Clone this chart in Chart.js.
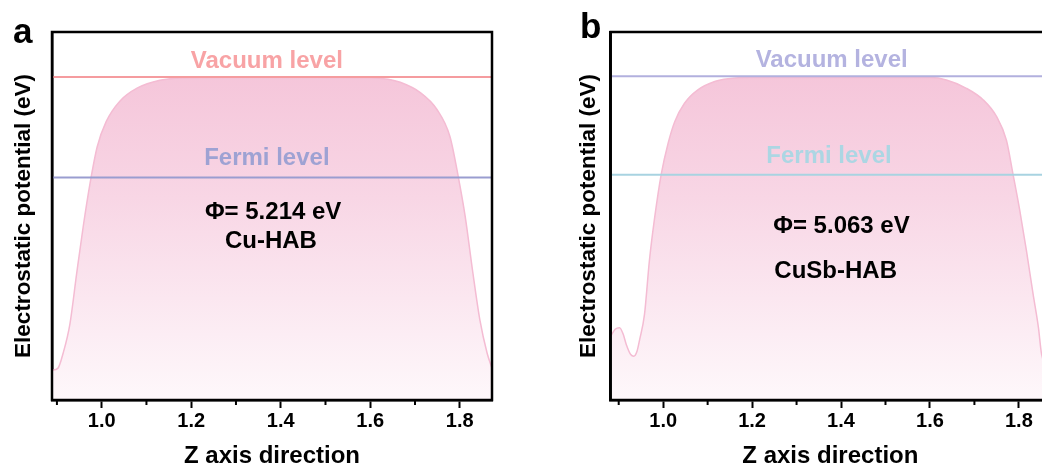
<!DOCTYPE html>
<html>
<head>
<meta charset="utf-8">
<script src="https://cdn.jsdelivr.net/npm/chart.js@4.4.1/dist/chart.umd.min.js"></script>
<style>
  html, body { margin: 0; padding: 0; background: #fff; overflow: hidden; }
  body { width: 1042px; height: 468px; position: relative; }
  canvas { position: absolute; top: 0; }
  #panelA { left: 0; width: 520px; height: 468px; }
  #panelB { left: 520px; width: 560px; height: 468px; }
</style>
</head>
<body>
<canvas id="panelA" width="520" height="468"></canvas>
<canvas id="panelB" width="560" height="468"></canvas>
<script>
// Planar-averaged electrostatic potential along z, relative to the Fermi level (eV)
const zCu = [0.889, 0.902, 0.914, 0.929, 0.944, 0.959, 0.974, 0.990, 1.010, 1.040, 1.080, 1.130, 1.180, 1.300, 1.450, 1.600,
             1.640, 1.667, 1.711, 1.749, 1.778, 1.797, 1.812, 1.829, 1.845, 1.861, 1.872];
const potCu = [-10.0, -9.9, -9.1, -7.6, -5.0, -2.5, -0.3, 1.6, 2.9, 3.95, 4.65, 5.05, 5.17, 5.19, 5.19, 5.18,
               5.10, 4.94, 4.42, 3.53, 2.13, 0.0, -2.0, -4.9, -7.4, -9.1, -9.9];

const zCuSb = [0.882, 0.892, 0.902, 0.910, 0.917, 0.927, 0.934, 0.941, 0.947, 0.958, 0.969, 0.981, 0.9955, 1.011, 1.026, 1.048,
               1.078, 1.116, 1.146, 1.200, 1.400, 1.600, 1.637, 1.682, 1.720, 1.750, 1.772, 1.787, 1.802, 1.817, 1.832,
               1.844, 1.851, 1.862, 1.870];
const potCuSb = [-8.3, -7.95, -7.87, -8.2, -8.73, -9.25, -9.34, -9.1, -8.5, -7.19, -4.43, -2.19, 0.0, 1.60, 2.72, 3.67,
                 4.36, 4.79, 4.93, 4.99, 5.00, 4.99, 4.87, 4.44, 3.84, 2.98, 1.77, 0.0, -1.84, -3.91, -6.15,
                 -7.87, -9.23, -9.9, -10.2];

// work functions (vacuum level minus Fermi level)
const workCu = 5.214;
const workCuSb = 5.063;
const fermi = 0;

const majorTicks = [1.0, 1.2, 1.4, 1.6, 1.8];
const minorTicks = [0.9, 1.1, 1.3, 1.5, 1.7];

const FONT = "'Liberation Sans', Arial, sans-serif";

// closed black frame + short minor ticks + text labels
const panelText = {
    id: 'panelText',
    afterDraw(chart, args, opts) {
        const ctx = chart.ctx;
        const area = chart.chartArea;
        const xs = chart.scales.x, ys = chart.scales.y;
        ctx.save();
        ctx.strokeStyle = '#000';
        ctx.lineWidth = 2.5;
        ctx.strokeRect(area.left, area.top, area.right - area.left, area.bottom - area.top);

        ctx.lineWidth = 2;
        minorTicks.forEach(v => {
            const px = xs.getPixelForValue(v);
            ctx.beginPath();
            ctx.moveTo(px, area.bottom);
            ctx.lineTo(px, area.bottom + 5);
            ctx.stroke();
        });

        ctx.textAlign = 'center';
        ctx.textBaseline = 'middle';
        (opts.notes || []).forEach(n => {
            ctx.fillStyle = n.color;
            ctx.font = `bold ${n.size}px ${FONT}`;
            ctx.fillText(n.text, xs.getPixelForValue(n.x), ys.getPixelForValue(n.y));
        });

        if (opts.letter) {
            ctx.textAlign = 'left';
            ctx.textBaseline = 'alphabetic';
            ctx.fillStyle = '#000';
            ctx.font = `bold 35px ${FONT}`;
            ctx.fillText(opts.letter.text, opts.letter.left, opts.letter.base);
        }
        ctx.restore();
    }
};

function pinkFill(context) {
    const area = context.chart.chartArea;
    if (!area) return 'rgba(244,194,216,0.8)';
    const g = context.chart.ctx.createLinearGradient(0, area.top, 0, area.bottom);
    g.addColorStop(0, 'rgb(244,192,214)');
    g.addColorStop(0.45, 'rgb(248,214,229)');
    g.addColorStop(1, 'rgb(254,248,251)');
    return g;
}

function levelLine(y, xMin, xMax, color) {
    return {
        data: [{ x: xMin, y: y }, { x: xMax, y: y }],
        borderColor: color,
        borderWidth: 2,
        pointRadius: 0,
        fill: false
    };
}

function makePanel(id, cfg) {
    const curve = cfg.z.map((z, i) => ({ x: z, y: cfg.pot[i] }));
    return new Chart(document.getElementById(id), {
        type: 'line',
        data: {
            datasets: [
                levelLine(cfg.work, cfg.xMin, cfg.xMax, cfg.vacColor),
                levelLine(fermi, cfg.xMin, cfg.xMax, cfg.fermiColor),
                {
                    data: curve,
                    borderColor: 'rgb(244,188,211)',
                    borderWidth: 1.5,
                    pointRadius: 0,
                    cubicInterpolationMode: 'monotone',
                    fill: 'start',
                    backgroundColor: pinkFill
                }
            ]
        },
        options: {
            responsive: false,
            animation: false,
            devicePixelRatio: 1,
            layout: { padding: { top: 32, right: cfg.padRight, left: cfg.padLeft, bottom: 0 } },
            plugins: {
                legend: { display: false },
                tooltip: { enabled: false },
                panelText: { notes: cfg.notes, letter: cfg.letter }
            },
            scales: {
                x: {
                    type: 'linear',
                    min: cfg.xMin,
                    max: cfg.xMax,
                    afterBuildTicks: s => { s.ticks = majorTicks.map(v => ({ value: v })); },
                    afterFit: s => { s.height = 68; },
                    border: { display: true, color: '#000', width: 2.5 },
                    grid: { display: true, drawOnChartArea: false, drawTicks: true, tickLength: 8, tickColor: '#000', tickWidth: 2 },
                    ticks: {
                        color: '#000',
                        padding: 3,
                        maxRotation: 0,
                        font: { family: FONT, size: 20, weight: 'bold', lineHeight: 1 },
                        callback: v => Number(v).toFixed(1)
                    },
                    title: {
                        display: true,
                        text: 'Z axis direction',
                        color: '#000',
                        padding: { top: 0, bottom: 0 },
                        font: { family: FONT, size: 24, weight: 'bold', lineHeight: 1 }
                    }
                },
                y: {
                    type: 'linear',
                    min: cfg.yMin,
                    max: cfg.yMax,
                    afterFit: s => { s.width = cfg.yWidth; },
                    border: { display: true, color: '#000', width: 2.5 },
                    grid: { display: false },
                    ticks: { display: false },
                    title: {
                        display: true,
                        text: 'Electrostatic potential (eV)',
                        color: '#000',
                        padding: { top: 10, bottom: 0 },
                        font: { family: FONT, size: 22.5, weight: 'bold', lineHeight: 1.2 }
                    }
                }
            }
        },
        plugins: [panelText]
    });
}

makePanel('panelA', {
    z: zCu, pot: potCu, work: workCu,
    xMin: 0.889, xMax: 1.872, yMin: -11.54, yMax: 7.55,
    padLeft: 0, padRight: 28, yWidth: 52,
    vacColor: '#f59c9f', fermiColor: '#9a9dd0',
    letter: { text: 'a', left: 13, base: 43 },
    notes: [
        { text: 'Vacuum level', x: 1.369, y: 6.05, color: '#f8a3a5', size: 24 },
        { text: 'Fermi level', x: 1.369, y: 1.02, color: '#9ea2d3', size: 24 },
        { text: '\u03A6= 5.214 eV', x: 1.383, y: -1.8, color: '#000', size: 24 },
        { text: 'Cu-HAB', x: 1.378, y: -3.3, color: '#000', size: 24 }
    ]
});

makePanel('panelB', {
    z: zCuSb, pot: potCuSb, work: workCuSb,
    xMin: 0.882, xMax: 1.870, yMin: -11.59, yMax: 7.335,
    padLeft: 45, padRight: 30, yWidth: 45.7,
    vacColor: '#b2b0de', fermiColor: '#a8d3e1',
    letter: { text: 'b', left: 60, base: 38 },
    notes: [
        { text: 'Vacuum level', x: 1.379, y: 5.87, color: '#b4b3e0', size: 24 },
        { text: 'Fermi level', x: 1.373, y: 0.95, color: '#acd6e3', size: 24 },
        { text: '\u03A6= 5.063 eV', x: 1.401, y: -2.65, color: '#000', size: 24 },
        { text: 'CuSb-HAB', x: 1.388, y: -5.0, color: '#000', size: 24 }
    ]
});
</script>
</body>
</html>
